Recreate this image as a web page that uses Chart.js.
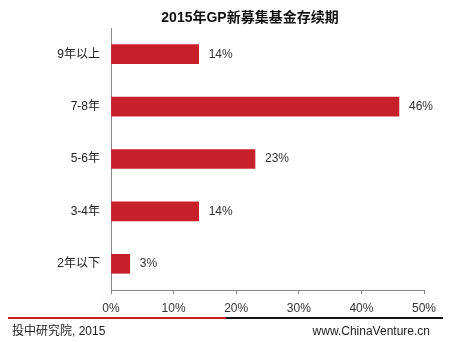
<!DOCTYPE html>
<html><head><meta charset="utf-8">
<script src="https://cdn.jsdelivr.net/npm/chart.js@4"></script>
<style>
html,body{margin:0;padding:0;background:#fff;}
#wrap{position:relative;width:456px;height:342px;overflow:hidden;font-family:"Liberation Sans","Noto Sans CJK SC",sans-serif;}
#title{position:absolute;left:150px;width:200px;top:8px;text-align:center;font-weight:bold;font-size:14px;color:#111;line-height:18px;}
#c{position:absolute;left:0;top:0;}
.ln{position:absolute;top:317px;height:2px;}
.ft{position:absolute;top:324px;font-size:12px;color:#222;line-height:14px;}
</style></head>
<body><div id="wrap">
<canvas id="c" width="456" height="342"></canvas>
<div id="title">2015年GP新募集基金存续期</div>
<div class="ln" style="left:8px;width:218px;background:#c8202a"></div>
<div class="ln" style="left:226px;width:217px;background:#111"></div>
<div class="ft" style="left:12px">投中研究院, 2015</div>
<div class="ft" style="right:26px">www.ChinaVenture.cn</div>
</div>
<script>
const categories = ["9年以上","7-8年","5-6年","3-4年","2年以下"];
const values = [14, 46, 23, 14, 3];
const xTicks = [0,10,20,30,40,50];

const FONT = '"Liberation Sans","Noto Sans CJK SC",sans-serif';
const labelPlugin = {
  id:'vlabels',
  afterDatasetsDraw(chart){
    const ctx = chart.ctx;
    const meta = chart.getDatasetMeta(0);
    ctx.save();
    ctx.font = '12px ' + FONT;
    ctx.fillStyle = '#333';
    ctx.textBaseline = 'middle';
    ctx.textAlign = 'left';
    meta.data.forEach((bar,i)=>{
      ctx.fillText(values[i] + '%', bar.x + 10, bar.y);
    });
    ctx.restore();
  }
};

new Chart(document.getElementById('c'), {
  type:'bar',
  data:{labels:categories, datasets:[{data:values, backgroundColor:'#c8202a', borderWidth:0, barThickness:19}]},
  options:{
    indexAxis:'y',
    responsive:false,
    animation:false,
    layout:{padding:{left:0,right:32,top:28,bottom:0}},
    plugins:{legend:{display:false}, title:{display:false}, tooltip:{enabled:false}},
    scales:{
      x:{
        min:0,max:50,
        afterBuildTicks(s){ s.ticks = xTicks.map(v=>({value:v})); },
        afterFit(s){ s.height = 342 - 290; },
        grid:{display:true, drawOnChartArea:false, drawTicks:true, tickLength:4, color:'#888'},
        border:{display:true, color:'#888', width:1},
        ticks:{padding:7, color:'#333', font:{family:FONT, size:12}, callback:v=>v+'%'}
      },
      y:{
        afterFit(s){ s.width = 111; },
        grid:{display:false, drawTicks:false},
        border:{display:true, color:'#888', width:1},
        ticks:{padding:11, color:'#222', font:{family:FONT, size:12}}
      }
    }
  },
  plugins:[labelPlugin]
});
</script>
</body></html>
